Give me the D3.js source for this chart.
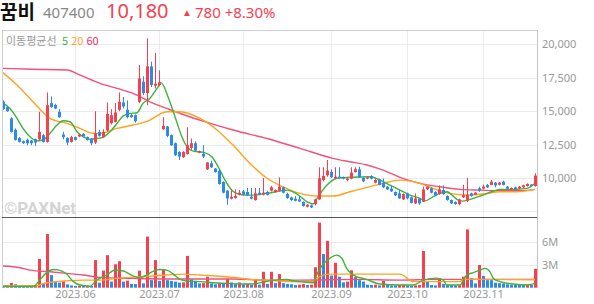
<!DOCTYPE html>
<html><head><meta charset="utf-8">
<script src="https://cdn.jsdelivr.net/npm/d3@7"></script>
<style>
body{margin:0;background:#fff;}
svg{font-family:"Noto Sans CJK KR","Noto Sans",sans-serif;}
</style></head><body>
<svg width="594" height="304"></svg>
<script>
// trading days: weekdays from 2023-05-04 to 2023-11-20 minus KRX holidays
var startDay = "2023-05-04", endDay = "2023-11-20";
var holidays = ["2023-05-05","2023-05-29","2023-06-06","2023-08-15","2023-09-28","2023-09-29","2023-10-02","2023-10-03","2023-10-09"];

var opens  = [15700,15300,14450,13600,13000,12750,12850,12800,12900,12900,13200,12700,15600,15450,14950,13250,13000,12700,13050,13100,
  13300,13050,12950,12650,13450,13050,13550,14100,14200,15100,15650,15100,14700,14700,15700,17200,16350,18350,16900,16950,
  13650,13850,13200,12600,11950,11550,11800,12250,12600,11900,11800,10650,11100,10700,10550,9700,9050,8450,8500,8750,
  9000,8950,8600,8350,8900,8750,8950,9050,8950,9050,9300,8800,8550,8450,8400,8200,7850,7950,8050,8400,
  9850,10200,10450,9950,10100,10050,9850,9950,10450,10650,10000,9950,10150,9650,9900,9650,9350,9200,8950,8850,
  8400,8850,8550,8100,8450,8220,9150,9230,8950,8800,9100,8650,8350,8200,8050,8550,8300,8850,8750,9230,
  9200,9480,9480,9650,9500,9720,9350,9150,9300,9200,9300,9400,9500,9400];
var highs  = [15800,15350,14550,13700,13050,12800,12950,12850,12950,14950,13300,16400,16100,15550,15150,13450,13050,13150,13100,13300,
  13350,13100,13000,15000,13600,13650,15650,15150,15600,16400,16050,15800,14800,14750,18450,17600,20450,18700,19350,18050,
  14550,13900,13250,12650,12000,12000,13800,12950,12750,12050,12450,11200,11300,10750,10600,9750,9100,9150,9150,9100,
  9100,9250,9250,9250,9250,10000,9050,9400,9150,10050,9350,8900,8600,8650,8650,8250,8050,8000,8450,10800,
  10800,11350,10650,10800,10800,10100,10050,10800,10800,10850,10050,10100,10200,9950,9950,9950,9400,9450,9000,9100,
  8850,8900,8600,8850,8500,9350,9400,9300,9000,9450,9450,8700,8400,8250,8450,9500,10000,8900,8950,9350,
  9500,9550,9850,9700,9700,9800,9400,9300,9350,9400,9500,9600,9550,10350];
var lows   = [15100,14950,13400,12800,12650,12550,12450,12450,12400,12750,12650,12650,15250,15150,14500,12900,12450,12650,12800,13050,
  13050,12800,12450,12550,13100,13000,13450,14000,14150,15000,15200,14450,14500,14150,15600,16200,15450,16800,16700,16850,
  13600,13050,12400,11650,11350,11500,11750,12100,12000,11850,11500,10600,10750,10400,9500,8850,8000,8400,8450,8700,
  8700,8650,8400,8300,8700,8700,8700,9000,8900,9000,8850,8450,8300,8250,8200,7850,7800,7750,7950,8350,
  9750,10100,10000,9900,9950,9900,9750,9900,10400,10000,9700,9900,9900,9600,9450,9250,9100,8950,8650,8450,
  8350,8400,8100,8050,8000,8200,9100,8850,8650,8750,8750,8300,8050,8000,7950,8500,8200,8600,8700,8950,
  9150,9250,9450,9300,9450,9450,9100,9100,9050,9150,9250,9350,9350,9350];
var closes = [15150,15000,13450,12850,12700,12600,12600,12600,12650,13450,12700,15450,15300,15200,14550,13050,12650,13050,12850,13250,
  13100,12850,12600,13350,13150,13450,14800,14700,14900,15700,15350,14550,14550,14250,17450,16350,18350,16950,17050,17150,
  13900,13150,12450,11700,11600,11950,12450,12600,12050,12000,11600,11150,10800,10450,9550,8900,8470,8600,8650,8900,
  8750,8700,8450,8850,8750,8900,8750,9300,9100,9350,8900,8500,8350,8300,8250,7900,8000,7800,8400,9980,
  10150,10550,10050,10100,10000,9950,9950,10400,10650,10050,9750,10050,9950,9850,9480,9300,9150,9000,8700,8470,
  8800,8480,8140,8470,8100,9140,9350,8900,8700,9150,8800,8350,8100,8050,8400,8720,8750,8650,8900,9050,
  9350,9300,9720,9450,9650,9480,9200,9250,9100,9350,9450,9550,9400,10180];
// volume, millions of shares
var volumes = [0.2,0.3,0.62,0.45,0.26,0.25,0.26,0.24,0.3,3.8,0.57,7.1,1.67,0.8,0.66,0.84,0.44,0.3,0.22,0.26,
  0.22,0.25,0.22,3.65,0.66,2.25,4.3,0.8,3.1,3.5,0.8,0.93,0.5,0.48,2.25,0.57,6.75,1.0,3.65,0.9,
  2.4,1.0,0.9,0.8,0.66,0.7,4.2,1.1,0.9,0.57,0.6,1.45,0.57,0.45,0.6,0.5,1.2,0.7,0.5,0.7,
  0.45,0.5,0.4,1.0,0.4,2.1,0.5,2.1,0.6,1.8,0.6,0.5,0.45,0.35,0.4,0.5,0.35,0.4,2.7,8.6,
  4.45,6.2,1.6,3.3,1.45,0.7,0.8,2.3,1.4,1.0,0.8,0.4,0.35,0.4,0.3,0.9,0.35,0.3,0.3,0.35,
  0.4,0.3,0.25,0.3,0.35,4.85,0.8,0.35,0.3,1.2,0.5,0.4,0.35,0.3,0.35,1.45,7.7,1.25,0.57,3.0,
  1.55,1.0,1.0,0.66,0.6,0.55,0.45,0.4,0.4,0.4,0.35,0.4,0.35,2.5];

// moving average lines: [day index, value]
var ma5 = [[0,15600],[1.75,15200],[3.5,14460],[5,13710],[6.75,13090],[8.5,12790],[10,12840],[11.75,13340],[13.5,13960],[15,14280],
  [16.75,14210],[18.5,13460],[20,13090],[21.75,12890],[23.5,12960],[25,13040],[26.75,13460],[28.5,14080],[30,14630],[31.75,14830],
  [33.5,14880],[35,15580],[36.75,15960],[38.5,16700],[39.5,17130],[41.25,16080],[43,14580],[44.7,13100],[46,12340],[47.2,12040],
  [48.8,11960],[50.5,11880],[52.2,11590],[53.8,10840],[55.5,9840],[57.2,9090],[58.8,8800],[60.5,8720],[63,8720],[65.5,8850],
  [67,8900],[69.5,9040],[71,9090],[73.5,8800],[76,8220],[77.5,8050],[78.75,8590],[81,9470],[83.5,9980],[86.75,10050],
  [91.75,10090],[94.25,9840],[96.75,9470],[99.25,9090],[101.75,8720],[104.25,8470],[105.5,8290],[107.5,8590],[109.25,8850],[111,8970],
  [112.25,8720],[113.75,8350],[115,8270],[117.5,8470],[120,8720],[122.5,9010],[124.25,9150],[127.5,9150],[131,9220],[133,9600]];
var ma20 = [[0,17880],[3.5,16950],[7.5,15700],[11.75,14460],[16,14080],[19.25,13710],[22.5,13340],[24.25,13340],[28.5,13710],[32.5,13960],
  [36.75,14330],[39.25,14780],[41,14960],[44.25,14960],[49.25,14460],[53.5,13590],[57.5,12460],[61.75,11090],[66,9980],[70,9340],
  [74.25,8850],[78.5,8650],[82.5,8650],[86.75,8970],[91,9300],[95,9600],[99.25,9840],[104.25,9600],[107.5,9220],[111.75,8850],
  [116,8720],[120,8800],[124.25,8970],[128.5,8970],[133,9150]];
var ma60 = [[0,18200],[7.5,18130],[16,18080],[19.25,17700],[24.25,17080],[28.5,16700],[32.5,16330],[36.75,15700],[41,15200],[45,14750],
  [49.25,14330],[57.5,13590],[66,12950],[74.25,12220],[82.5,11470],[86.75,11210],[91,10970],[95,10590],[99.25,10050],[104.25,9600],
  [109.25,9340],[114.25,9150],[119.25,9090],[124.25,9040],[129.25,9040],[133,9150]];
var vma5 = [[0,0.2],[7.6,0.15],[8.85,0.8],[10.9,2.0],[12.6,2.4],[14.7,2.2],[15.9,1.8],[17.6,0.8],[19.25,0.35],[21.75,0.2],
  [23.4,1.0],[25.9,1.67],[28,2.33],[30.1,2.2],[32.6,1.54],[34.25,1.37],[35.9,1.67],[37.6,2.2],[39.25,2.4],[40.9,2.33],
  [42.6,1.8],[44.25,1.1],[45.9,0.88],[49.25,0.8],[52.6,0.66],[55.9,0.57],[59.25,0.48],[62.6,0.48],[65.1,0.75],[67.6,0.97],
  [70.9,1.1],[72.6,0.88],[74.25,0.8],[77.6,0.66],[78.4,1.67],[79.6,2.8],[81.75,3.9],[83.4,4.3],[84.7,3.9],[85.9,2.55],
  [87.6,1.67],[90.9,1.1],[94.25,0.48],[99.25,0.35],[102.6,0.35],[105.1,1.0],[108.4,1.27],[110.1,1.0],[110.9,0.35],[114.25,0.35],
  [115.9,1.67],[117.6,2.0],[119.25,2.33],[120.5,2.55],[121.75,2.1],[122.6,1.23],[124.25,0.8],[127.6,0.48],[130.9,0.35],[133,0.57]];
var vma20 = [[0,0.22],[8.4,0.26],[10.9,0.66],[20,1.0],[24.25,1.0],[28.4,1.23],[34.25,1.45],[40.9,1.67],[45.1,1.8],[49.25,1.67],
  [53.4,1.54],[57.6,1.37],[61.75,1.1],[65.9,1.0],[72.6,0.8],[77.6,0.8],[78.4,1.23],[81.75,1.8],[99.25,1.8],[102.6,0.8],
  [114.25,0.8],[115.1,1.1],[133,1.05]];
var vma60 = [[0,2.86],[4.25,2.64],[6.75,2.33],[11.75,2.1],[15.9,1.9],[20,1.67],[24.25,1.37],[32.6,1.23],[40.9,1.15],[57.6,1.15],
  [65.9,1.0],[74.25,1.0],[88.4,1.1],[99.25,1.0],[107.6,1.1],[133,1.1]];

var priceTicks = [10000, 12500, 15000, 17500, 20000];
var priceGrid = [7500, 10000, 12500, 15000, 17500, 20000];
var volTicks = [3, 6];

var red = "#f5404f", blue = "#2d8ae6";
var c5 = "#3cb43c", c20 = "#ffa21f", c60 = "#f2507a";

var parse = d3.timeParse("%Y-%m-%d"), fmtDay = d3.timeFormat("%Y-%m-%d");
var hol = new Set(holidays);
var dates = d3.timeDays(parse(startDay), d3.timeDay.offset(parse(endDay), 1))
  .filter(function(d) { return d.getDay() > 0 && d.getDay() < 6 && !hol.has(fmtDay(d)); });

var svg = d3.select("svg");
var left = 2, right = 537, pTop = 30, pBot = 217, vBot = 288;

var x = d3.scaleLinear().domain([0, dates.length - 1]).range([3, 535]);
var y = d3.scaleLinear().domain([7500, 20000]).range([211.4, 44.3]);
var yv = d3.scaleLinear().domain([0, 6]).range([287.7, 242.3]);

// month start days
var months = [];
dates.forEach(function(d, i) {
  if (i > 0 && d.getMonth() != dates[i - 1].getMonth()) months.push(i);
});

svg.append("defs").append("clipPath").attr("id", "pc")
  .append("rect").attr("x", left).attr("y", pTop).attr("width", right - left).attr("height", pBot - pTop);
svg.select("defs").append("clipPath").attr("id", "vc")
  .append("rect").attr("x", left).attr("y", pBot).attr("width", right - left).attr("height", vBot - pBot);

// grid
svg.selectAll(".hg").data(priceGrid).enter().append("line")
  .attr("x1", left).attr("x2", right)
  .attr("y1", function(d) { return Math.round(y(d)) + 0.5; })
  .attr("y2", function(d) { return Math.round(y(d)) + 0.5; })
  .attr("stroke", "#ececec");
svg.selectAll(".vg").data(volTicks).enter().append("line")
  .attr("x1", left).attr("x2", right)
  .attr("y1", function(d) { return Math.round(yv(d)) + 0.5; })
  .attr("y2", function(d) { return Math.round(yv(d)) + 0.5; })
  .attr("stroke", "#ececec");
svg.selectAll(".mg").data(months).enter().append("line")
  .attr("x1", function(i) { return x(i) + 0.5; }).attr("x2", function(i) { return x(i) + 0.5; })
  .attr("y1", pTop).attr("y2", vBot)
  .attr("stroke", "#ececec");

// watermark
svg.append("text").attr("x", 4).attr("y", 214)
  .attr("font-family", "Roboto, 'Noto Sans', sans-serif").attr("font-weight", "bold").attr("font-size", 17)
  .attr("fill", "#d4d4d4").text("©PAXNet");

// price panel
var gp = svg.append("g").attr("clip-path", "url(#pc)");
var line = d3.line().curve(d3.curveMonotoneX)
  .x(function(d) { return x(d[0]); });

function maLine(g, data, yy, color) {
  g.append("path").datum(data)
    .attr("d", line.y(function(d) { return yy(d[1]); }))
    .attr("fill", "none").attr("stroke", color).attr("stroke-width", 1.4);
}

maLine(gp, ma60, y, c60);
maLine(gp, ma20, y, c20);
maLine(gp, ma5, y, c5);

var candle = gp.selectAll(".c").data(closes).enter().append("g");
candle.append("rect")
  .attr("x", function(d, i) { return x(i); }).attr("width", 1)
  .attr("y", function(d, i) { return y(highs[i]); })
  .attr("height", function(d, i) { return Math.max(1, y(lows[i]) - y(highs[i])); })
  .attr("fill", function(d, i) { return d >= opens[i] ? red : blue; });
candle.append("rect")
  .attr("x", function(d, i) { return x(i) - 1; }).attr("width", 3)
  .attr("y", function(d, i) { return y(Math.max(d, opens[i])); })
  .attr("height", function(d, i) { return Math.max(1, Math.abs(y(d) - y(opens[i]))); })
  .attr("fill", function(d, i) { return d >= opens[i] ? red : blue; });

// volume panel
var gv = svg.append("g").attr("clip-path", "url(#vc)");
gv.selectAll(".v").data(volumes).enter().append("rect")
  .attr("x", function(d, i) { return x(i) - 1; }).attr("width", 3)
  .attr("y", function(d) { return yv(d); })
  .attr("height", function(d) { return yv(0) - yv(d); })
  .attr("fill", function(d, i) { return i > 0 && d > volumes[i - 1] ? red : blue; });
maLine(gv, vma60, yv, c60);
maLine(gv, vma20, yv, c20);
maLine(gv, vma5, yv, c5);

// frame
svg.append("line").attr("x1", left).attr("x2", right).attr("y1", pTop + 0.5).attr("y2", pTop + 0.5).attr("stroke", "#cfcfcf");
svg.append("line").attr("x1", left + 0.5).attr("x2", left + 0.5).attr("y1", pTop).attr("y2", vBot).attr("stroke", "#cfcfcf");
svg.append("line").attr("x1", right + 0.5).attr("x2", right + 0.5).attr("y1", pTop).attr("y2", vBot).attr("stroke", "#c4c4c4");
svg.append("line").attr("x1", left).attr("x2", right).attr("y1", pBot + 0.5).attr("y2", pBot + 0.5).attr("stroke", "#555");

// axes
var axisFont = "'Noto Sans', sans-serif";
svg.selectAll(".pt").data(priceTicks).enter().append("text")
  .attr("x", 542).attr("y", function(d) { return y(d) + 4; })
  .attr("font-family", axisFont).attr("font-size", 11).attr("fill", "#999")
  .text(d3.format(","));
svg.selectAll(".vt").data(volTicks).enter().append("text")
  .attr("x", 542).attr("y", function(d) { return yv(d) + 4; })
  .attr("font-family", axisFont).attr("font-size", 11).attr("fill", "#999")
  .text(function(d) { return d + "M"; });
svg.selectAll(".mt").data(months).enter().append("text")
  .attr("x", function(i) { return x(i) + 0.5; }).attr("y", 298)
  .attr("text-anchor", "middle")
  .attr("font-family", axisFont).attr("font-size", 11).attr("fill", "#999")
  .text(function(i) { return d3.timeFormat("%Y.%m")(dates[i]); });

// legend
var lg = svg.append("text").attr("x", 6).attr("y", 45).attr("font-size", 11);
lg.append("tspan").attr("fill", "#999").text("이동평균선 ");
lg.append("tspan").attr("fill", c5).attr("dx", 3).text("5");
lg.append("tspan").attr("fill", c20).attr("dx", 3).text("20");
lg.append("tspan").attr("fill", "#ee2f5c").attr("dx", 3).text("60");

// header
var last = closes[closes.length - 1], prev = closes[closes.length - 2];
var chg = last - prev;
svg.append("text").attr("x", 0).attr("y", 19).attr("font-size", 19).attr("font-weight", "bold").attr("fill", "#111").text("꿈비");
svg.append("text").attr("x", 43).attr("y", 18).attr("font-family", axisFont).attr("font-size", 15).attr("fill", "#888").text("407400");
svg.append("text").attr("x", 106).attr("y", 18).attr("font-family", axisFont).attr("font-size", 20).attr("fill", red).text(d3.format(",")(last));
svg.append("text").attr("x", 182).attr("y", 16).attr("font-family", axisFont).attr("font-size", 10).attr("fill", red).text("▲");
svg.append("text").attr("x", 195).attr("y", 18).attr("font-family", axisFont).attr("font-size", 15).attr("fill", red)
  .text(chg + "  +" + d3.format(".2f")(chg / prev * 100) + "%");
</script>
</body></html>
